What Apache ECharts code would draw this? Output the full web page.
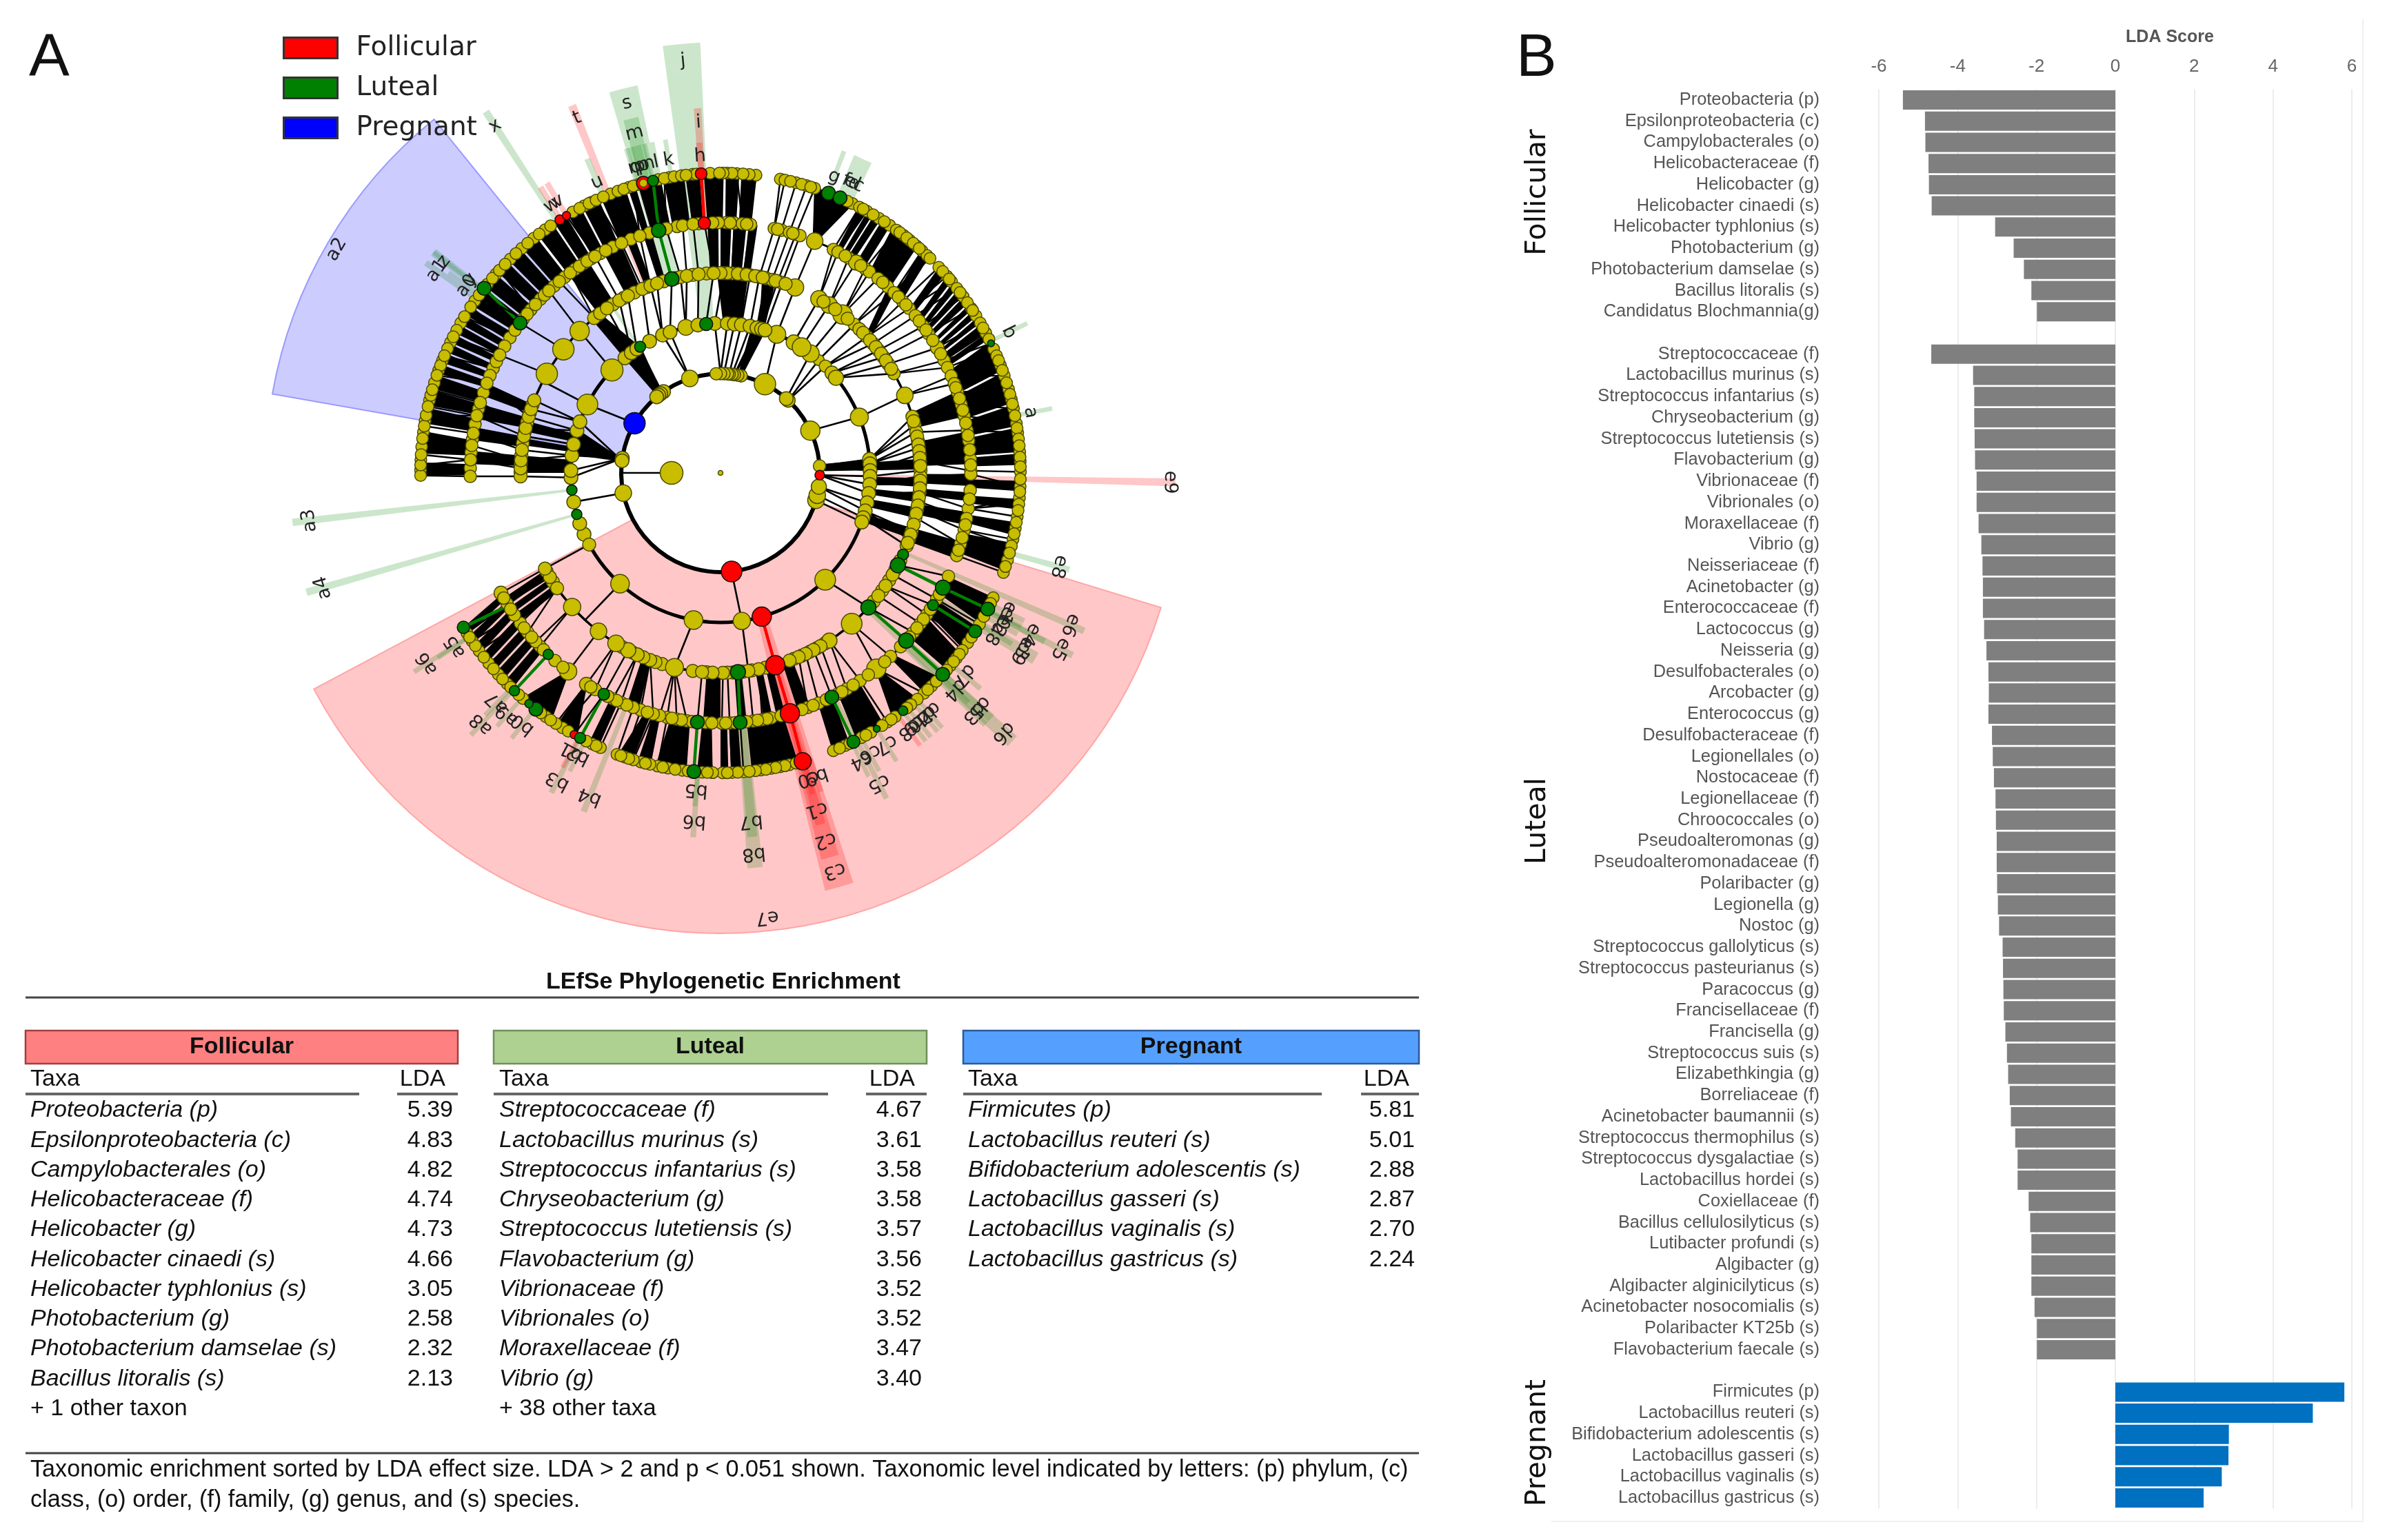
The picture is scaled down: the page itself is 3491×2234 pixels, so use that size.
<!DOCTYPE html>
<html><head><meta charset="utf-8">
<style>html,body{margin:0;padding:0;background:#fff}#c{width:3491px;height:2234px}</style>
<script src="https://cdn.jsdelivr.net/npm/echarts@6/dist/echarts.min.js"></script>
</head><body><div id="c"></div>
<script>
// ---------- Panel B data ----------
const follicularTaxa=['Proteobacteria (p)','Epsilonproteobacteria (c)','Campylobacterales (o)','Helicobacteraceae (f)','Helicobacter (g)','Helicobacter cinaedi (s)','Helicobacter typhlonius (s)','Photobacterium (g)','Photobacterium damselae (s)','Bacillus litoralis (s)','Candidatus Blochmannia(g)'];
const follicularLDA=[5.39,4.83,4.82,4.74,4.73,4.66,3.05,2.58,2.32,2.13,1.99];
const lutealTaxa=['Streptococcaceae (f)','Lactobacillus murinus (s)','Streptococcus infantarius (s)','Chryseobacterium (g)','Streptococcus lutetiensis (s)','Flavobacterium (g)','Vibrionaceae (f)','Vibrionales (o)','Moraxellaceae (f)','Vibrio (g)','Neisseriaceae (f)','Acinetobacter (g)','Enterococcaceae (f)','Lactococcus (g)','Neisseria (g)','Desulfobacterales (o)','Arcobacter (g)','Enterococcus (g)','Desulfobacteraceae (f)','Legionellales (o)','Nostocaceae (f)','Legionellaceae (f)','Chroococcales (o)','Pseudoalteromonas (g)','Pseudoalteromonadaceae (f)','Polaribacter (g)','Legionella (g)','Nostoc (g)','Streptococcus gallolyticus (s)','Streptococcus pasteurianus (s)','Paracoccus (g)','Francisellaceae (f)','Francisella (g)','Streptococcus suis (s)','Elizabethkingia (g)','Borreliaceae (f)','Acinetobacter baumannii (s)','Streptococcus thermophilus (s)','Streptococcus dysgalactiae (s)','Lactobacillus hordei (s)','Coxiellaceae (f)','Bacillus cellulosilyticus (s)','Lutibacter profundi (s)','Algibacter (g)','Algibacter alginicilyticus (s)','Acinetobacter nosocomialis (s)','Polaribacter KT25b (s)','Flavobacterium faecale (s)'];
const lutealLDA=[4.67,3.61,3.58,3.58,3.57,3.56,3.52,3.52,3.47,3.40,3.37,3.36,3.36,3.33,3.27,3.22,3.21,3.22,3.13,3.11,3.08,3.04,3.03,3.01,3.01,3.00,2.98,2.95,2.86,2.85,2.84,2.83,2.79,2.75,2.72,2.68,2.65,2.54,2.48,2.48,2.20,2.16,2.13,2.13,2.13,2.05,1.99,1.99];
const pregnantTaxa=['Firmicutes (p)','Lactobacillus reuteri (s)','Bifidobacterium adolescentis (s)','Lactobacillus gasseri (s)','Lactobacillus vaginalis (s)','Lactobacillus gastricus (s)'];
const pregnantLDA=[5.81,5.01,2.88,2.87,2.70,2.24];
const ldaTicks=[-6,-4,-2,0,2,4,6];

// ---------- Table data ----------
const tblFollicular=[['Proteobacteria (p)','5.39'],['Epsilonproteobacteria (c)','4.83'],['Campylobacterales (o)','4.82'],['Helicobacteraceae (f)','4.74'],['Helicobacter (g)','4.73'],['Helicobacter cinaedi (s)','4.66'],['Helicobacter typhlonius (s)','3.05'],['Photobacterium (g)','2.58'],['Photobacterium damselae (s)','2.32'],['Bacillus litoralis (s)','2.13']];
const tblLuteal=[['Streptococcaceae (f)','4.67'],['Lactobacillus murinus (s)','3.61'],['Streptococcus infantarius (s)','3.58'],['Chryseobacterium (g)','3.58'],['Streptococcus lutetiensis (s)','3.57'],['Flavobacterium (g)','3.56'],['Vibrionaceae (f)','3.52'],['Vibrionales (o)','3.52'],['Moraxellaceae (f)','3.47'],['Vibrio (g)','3.40']];
const tblPregnant=[['Firmicutes (p)','5.81'],['Lactobacillus reuteri (s)','5.01'],['Bifidobacterium adolescentis (s)','2.88'],['Lactobacillus gasseri (s)','2.87'],['Lactobacillus vaginalis (s)','2.70'],['Lactobacillus gastricus (s)','2.24']];

// ---------- Cladogram data: ring -> groups of [parent angle, child nodes]; node = angle or [angle,size,class] ----------
const ringRadius=[0,71,144,217,290,363,435];
const ringDefaultSize=[7,33,18,20,19,18,17];
const ring1=[[null,[[180,33]]]];
const ring2=[[null,[[-16,24],[-13,24],[-8,22],[-1.3,14,'F'],[4,18],[25.2,28],[47,20],[48.5,20],[63.4,31],78,80,82,83.3,85,86,88,90,92.5,[108,24],[125,20],[127,20],[128.5,20],[130,20],[150,31,'P'],[171.5,20],[173,20],[191.7,24],[276.4,30,'F']]],[180,[[180,0]]]];
const ring3=[[63.4,[[67.9,26]]],[47,[[49,16],[45.5,18]]],[48.5,[[53,25]]],[25.2,[[21.9,26]]],[4,[5.2,3.5,0.9]],[-1.3,[-1.3,-4.4,-7.9]],[-8,[-11.5,-14.7]],[-13,[-17.4]],[-16,[-19.2]],[276.4,[[-81.8,25]]],
[null,[[-74,28,'F'],[-45.6,30],[259.6,27],[227.8,27],[60.7,22],[57.2,27],41.9,[39.5,22],204.2,199.8,[196.1,15,'L'],[186.6,15,'L'],[208.6,19],[103.4,23],98.7,[95.5,19,'L'],[118.3,20],[136.5,32]]],
[191.7,[191.2]],[171.5,[181.8,179.1,173.3]],[173,[169,163.6,160]],[150,[[152.8,30]]],[127,[129.7,126.6,124,[122.5,16,'L']]],[108,[112.8,109.7]],[90,[92.2,87.4]],[88,[84.7]],[85,[82]],[83.3,[78.6]],[82,[75.9,74.1]],[78,[72.7]]];
const ring4=[[67.9,[[68.1,25]]],[92.2,[89]],[87.4,[86.7]],[84.7,[83.4]],[82,[81.5]],[78.6,[78.8]],[75.9,[76.9,75]],[74.1,[73.4]],[72.7,[72]],[60.7,[[60.5,24]]],[57.2,[[57.1,24]]],[53,[[52.4,28]]],[49,[[48,18]]],[45.5,[42.9,40.3]],[41.9,[37.8,35.4]],[39.5,[33,[29.8,18]]],[21.9,[[22.8,24]]],[5.2,[16.3,13.9,11.8]],[3.5,[9.2,7.2]],[0.9,[5.3,3.3]],[-1.3,[0.7]],[-4.4,[-1,-3.3]],[-7.9,[-5.6,-8.2]],[-11.5,[-10.6,-12.9]],[-14.7,[-17,-19.4]],[-17.4,[-21.4]],[-45.6,[[-42.3,22,'L']]],
[null,[88,85,82.5,80,77.8,74,71,59,55,50.5,46,44.5,41.6,39,36.6,34.2,31.4,15,10.5,8.2,6.3,4.3,2,-2.2,-4.4,-7,-9.4,-11.8,-15,-18,-20.5,-26,-29,-32.5,-36,-40,-58.5,-61.2,-63.5,-66,-68.5,-77,-81,-83.5,-86.5,266,262,253,251,244,240.5,213,209.5,179.8,177.5,175,171.5,168,165.3,162.5,160,128,122.5,119,115.5,111.5,106.5,103,98,94,90]],
[null,[[-24.1,16,'L'],[-27.5,22,'L'],-30.6,-34.4,-37.9,[-49,30],[-57,22],-60,-62.3,-64.8,-67,-69.8,-79,[-85,22,'L'],-88,-89.3,267.7,264.7,249.4,247.3,[245.4,20],[242.5,22],[238.5,24],[232.4,24],[222.1,25],215.2,211.4,[150.3,31],[141.8,31]]],
[-74,[[-74.1,28,'F']]],[-81.8,[-82]],[259.6,[[256.7,26]]],[227.8,[[227.4,0]]],[208.6,[[208.6,19]]],[181.8,[181]],[179.1,[178.7]],[173.3,[176.4,173.4]],[169,[169.4]],[163.6,[167,163.7]],[160,[161.4,158.7]],[152.8,[[152.7,0]]],[136.5,[[134.8,28]]],[129.7,[129.2,127]],[126.6,[124.6,120.4]],[124,[117.6]],[118.3,[113]],[112.8,[110.5,108.5]],[109.7,[[104.1,21,'L']]],[103.4,[101.5,99.7]],[98.7,[96.3]],[95.5,[92]]];
const ring5=[[68.1,[[67.9,24]]],[89,[88.7]],[86.7,[86.8,85]],[83.4,[83.1]],[78.8,[77.6]],[76.9,[75.9]],[75,[74]],[73.4,[72.5]],[72,[71.5]],[60.5,[63.2,62]],[57.1,[59.2,[57.2,22]]],[52.4,[54.7,53.5,51]],[48,[48.1,46.1]],[42.9,[43.3,41.1]],[40.3,[38.9]],[37.8,[35.9]],[35.4,[33.8]],[33,[[30,20]]],[29.8,[26.7,24.9]],[22.8,[22.8,20.9]],[16.3,[18.8,15.9]],[13.9,[13.2]],[11.8,[9.8]],[9.2,[7.4]],[7.2,[3.2]],[3.3,[0.5]],[-1,[-0.3]],[-5.6,[-8.2]],[-8.2,[-10.5]],[-10.6,[-13.2]],[-12.9,[-16.5]],[-17,[-19.3]],[-27.5,[[-27.3,22,'L'],-24.4]],[-30.6,[-30.3]],[-34.4,[-34.5,[-31.9,16,'L']]],[-37.9,[-37]],[-42.3,[[-42.1,22,'L'],-39.6]],[-49,[[-51.5,28],-47.2]],[-57,[-56.1,-59.7]],[-60,[-62]],[-62.3,[[-63.6,20,'L']]],[-64.8,[-66.9]],[-67,[-69.6]],[-74.1,[[-73.9,28,'F']]],[-79,[-78.3,-80.4]],[-82,[-82.5]],[-85,[[-85.5,20,'L']]],[-88,[-87.9]],[-89.3,[-89.7]],[267.7,[266.6]],[264.7,[[264.7,20,'L']]],[256.7,[259.9,262.3,257.7,255.9]],[249.4,[254.4,251.4,249.6]],[245.4,[246.6,244.5]],[242.5,[[242.2,17,'L']]],[238.5,[240,[237.6,20]]],[232.4,[[232.5,25]]],[222.1,[223.9,222.4]],[215.2,[216.9,214.6,219.6]],[211.4,[211.5]],[208.6,[[208.7,20]]],
[null,[[226.5,15,'L'],228.6,[212,0,'L'],155.3,147.3,142,139.3,136]],
[null,[87.8,84,76.8,73.2,60.1,55.9,49.6,44.7,42.2,37.4,34.8,32,28.4,19.9,17.3,14.5,11.5,8.6,5.3,1.8,-4,-6,-12,-15,-18,-29,-33,-35.8,-38.3,-41,-44,-49,-53.8,-58,-61,-65,-68.3,-71,-76,-79.3,-81.5,-84,-86.7,-88.8,268,263.5,261,258.8,253,248,245.5,243.2,238.8,231,225,221,218.3,213,210,178.9,175.3,172.3,168.8,165.2,161.3,157.1,153.6,149.6,145.2,140.6,137.7,134.7,131.7,128.5,125.6,123.2,121.1,118.7,115.5,111,106.5,100,95,90.5]],
[181,[180.8]],[178.7,[177]],[176.4,[173.7]],[173.4,[170.9]],[169.4,[166.8]],[167,[163.7]],[163.7,[159]],[150.3,[151.9]],[141.8,[[143.2,20,'L']]],[134.8,[133.3]],[129.2,[130.1,126.9]],[127,[124.3]],[124.6,[122.2]],[120.4,[120.1]],[117.6,[117.3]],[113,[113.3]],[110.5,[108.8]],[104.1,[[104.3,21,'L']]],[101.5,[102.5]],[99.7,[98.7]],[96.3,[96.3]],[92,[91.8,[93.7,18,'F']]]];
const ring6=[[83.1,[83.2,84.5]],[85,[86.9]],[88.7,[88.7]],[77.6,[78.5,77.6]],[75.9,[75.4]],[74,[73.3]],[72.5,[71.7]],[67.9,[[68.9,20,'L'],[66.5,20,'L'],63.9]],[63.2,[62.4]],[62,[60.8]],[59.2,[58.1]],[57.2,[55.7]],[54.7,[54.1]],[53.5,[52.4]],[51,[50.9]],[48.1,[49.2]],[46.1,[47.8,46.5,45.7]],[43.3,[43.3]],[41.1,[41,39.6]],[38.9,[38]],[35.9,[36]],[33.8,[33.3]],[30,[31.6,30]],[26.7,[27.8,[25.6,10,'L']]],[24.9,[24.4]],[22.8,[21,18.9]],[18.8,[16.2,14.2]],[15.9,[12.4]],[13.2,[9.5]],[9.8,[7.7]],[7.4,[4]],[3.2,[2.2]],[0.5,[0.2]],[-0.3,[-2.6]],[-8.2,[-4.8,-6,-8.4]],[-10.5,[-10.6]],[-13.2,[-12.8,-14.1]],[-16.5,[-16.9]],[-19.3,[-19.4]],[-27.3,[[-27,20,'L'],-24.6]],[-30.3,[-30.3]],[-31.9,[[-31.9,19,'L']]],[-34.5,[-34.5,-36.3]],[-37,[-38.2]],[-39.6,[-40]],[-42.1,[[-42.2,20,'L']]],[-47.2,[-45.3]],[-51.5,[-47.3,-49,-50.6,[-52.5,14,'L'],-54.4]],[-56.1,[-56.2]],[-59.7,[[-58.6,10,'L'],-59.9]],[-62,[-62]],[-63.6,[[-63.7,19,'L']]],[-66.9,[-65.4,-67.9]],[-73.9,[[-74.1,25,'F']]],[-78.3,[-76.7,-78.5]],[-80.4,[-80.3]],[-82.5,[-82.3]],[-85.5,[-85.6]],[-87.9,[-87.8]],[-89.7,[-89.6]],[266.6,[268.5,266.5]],[264.7,[[264.9,20,'L']]],[262.3,[262.7]],[259.9,[259.9]],[257.7,[257.9]],[255.9,[256.4]],[254.4,[254.6,253.1]],[251.4,[251.4]],[249.6,[249.8]],[246.6,[246.4]],[244.5,[244.7]],[242.2,[[242.1,16,'L'],[240.8,12,'F']]],[240,[238.2]],[237.6,[236.7]],[232.5,[234.4,[232,20,'L'],[230.3,12,'L'],228.8]],[226.5,[[226.6,15,'L']]],[223.9,[224.7]],[222.4,[222.2]],[219.6,[219.4]],[216.9,[216.4]],[214.6,[214.1]],[211.5,[212.3]],[212,[[211,18,'L']]],
[null,[85.7,87.8,89.5,76.5,74.3,72.5,65,61.6,59.4,56.9,53.3,51.6,50,48.5,42.2,40.3,37,34.6,32.8,28.9,26.5,23,22,20,17.5,15.2,13.3,11,8.6,6.5,5.2,3,1.2,-1.2,-3.6,-7.2,-9.5,-11.7,-15.5,-18.2,-25.8,-28.6,-33.2,-37.2,-39,-41.1,-44,-46.3,-51.6,-55.3,-57.4,-61,-64.5,-66.6,-75.4,-77.6,-79.4,-81.3,-83.3,-84.5,-86.7,-88.7,267.5,263.8,261.3,258.9,255.5,252.2,250.6,245.5,243.4,239.5,235.5,233.2,227.7,225.6,223.4,220.8,217.9,215.2,213.2,179.5,177.5,175,172.2,170,166,165,162.5,160,158,154.2,150,145,141,138.5,134.5,131.5,128.5,125.8,119.5,117,115.5,111.5,110,107.8,105.9,102,99.9,95.3,94.6]],
[180.8,[180.5]],[177,[178.5,176.5]],[173.7,[173.4]],[170.9,[171]],[166.8,[168.9,167.2]],[163.7,[163.9]],[159,[159,161]],[155.3,[155.5,157]],[151.9,[151.6,153]],[147.3,[146.4,148.6]],[143.2,[[142,20,'L']]],[142,[143.6]],[139.3,[139.5,137.5]],[136,[135.9]],[133.3,[133]],[130.1,[130]],[126.9,[127.2]],[124.3,[124.5]],[122.2,[[122.4,14,'F']]],[120.1,[[120.9,12,'F'],118]],[117.3,[116]],[113.3,[114.5,113]],[108.8,[108.8,106.9]],[104.3,[[103,16,'L'],[104.9,20,'F'],[104.9,11,'T']]],[102.5,[100.8]],[98.7,[98.9,97.5]],[96.3,[96.6]],[93.7,[[93.7,17,'F']]],[91.8,[92,90.2]]];
// continuous arcs: [ring, from, to, width]
const ringArcs=[[2,-84,276.4,6],[3,-84,276,5],[4,-19.4,60.5,3.5],[4,68.1,181,3.5],[4,208.6,335.9,3.5],[5,-19.3,67.9,3],[5,71.5,77.6,3],[5,83.1,181,3],[5,208.7,232.5,3],[5,237.6,335.6,3],[6,-19.4,43.3,3],[6,45.7,78.5,3],[6,83.2,180,3],[6,211,246.4,3],[6,249.8,286,3],[6,292.1,335.4,3]];
// dense bundles of edges: [inner ring, inner from, inner to, outer from, outer to]
const edgeBundles=[[5,89.5,93,89.4,93.2],[5,86.4,88.9,86.4,89],[5,83.4,85.8,83,86],[5,67.4,68.4,63.7,71.8],[5,61.4,62.6,61,62.5],[5,59.8,60.9,59.5,60.7],[5,58,59.5,57.7,59.2],[5,55,57.2,55.5,57.4],[5,47.5,53.5,49,55],[5,43.5,45.5,46,48],[5,39.5,41,41.5,43.3],[5,37,38.2,39.7,41],[5,35.5,36.5,38,39.3],[5,34.2,35.2,36.2,37.6],[5,32.8,33.8,34.4,35.9],[5,31.2,32,33,34.1],[5,29.8,30.6,31.5,32.7],[5,28.5,29.2,30,31.2],[5,26.5,28,28,29.7],[5,25,26.2,26.5,27.7],[5,18.5,24,20,26],[5,12.5,18,13.5,19.6],[5,8.5,12,9,13.1],[5,4,8,4,8.7],[5,1.5,3.5,1.5,3.7],[5,-3.4,-1.5,-3.5,-1.5],[5,-7,-5.2,-7,-5],[5,-11.5,-9.6,-12,-9.5],[5,-18.5,-14,-19,-13.5],[5,-29,-24.5,-30,-24.5],[5,-34,-30.5,-36,-31],[5,-41,-35,-41,-37],[5,-47.5,-46.5,-47.2,-43],[5,-51.8,-51.2,-55,-49],[5,-62,-56.5,-63,-57],[5,-67,-63.5,-68,-64.5],[5,-84,-75.5,-84,-75],[5,-88,-86,-88,-86],[5,-90,-88.5,-90,-88.5],[5,265.8,268,265.5,268.5],[5,258.5,263,257.5,263.5],[5,254.5,256,254,256.5],[5,252.5,254,250,253],[5,244,246,244,246],[5,237.4,237.8,237,241.5],[5,232.3,232.8,229,235.7],[5,223,225,224,226],[5,220.5,222.5,221.6,223.6],[5,218,220,219.5,221.2],[5,215.5,217.5,217.3,219.1],[5,213,214.8,215,216.9],[5,211,212.5,213,214.6],[5,209,210.5,211,212.6],[5,178,180.5,178,180.5],[5,172.5,176,172,176.3],[5,167.5,170.5,167.5,170.5],[5,164,166.5,164,167],[5,161,163.5,161,163.7],[5,158.5,160,158.8,160.6],[5,156.5,157.8,156.5,158.4],[5,154.5,155.8,154.5,156.2],[5,152.5,153.8,152.5,154.2],[5,150.5,151.8,150.5,152.2],[5,148.5,150,148.5,150.2],[5,146,148,146.5,148.2],[5,142,145.5,142,146],[5,138.5,141.6,138.5,141.6],[5,135.3,138,135.3,138],[5,131.8,134.9,131.8,134.9],[5,128,131.4,128,131.4],[5,124,127.5,124,127.5],[5,121,123.6,121,123.6],[5,117.8,120.6,117.8,120.6],[5,114,117.4,114,117.4],[5,108.5,113.5,108.5,113.5],[5,106.5,108,106.5,108],[5,101.5,106,101.5,106],[5,97,101,97,101],[5,94,96.5,94,96.5],
[4,87.5,90,87.5,90],[4,84,87,84,87],[4,81.5,83.5,81.5,83.5],[4,90.5,93,90.5,93],[4,41.8,43.5,46,48],[4,2,9,2,9.5],[4,13,17.5,13,19],[4,-3,-0.3,-3,-0.3],[4,-6.5,-4.5,-6.5,-4.5],[4,-12,-9,-12,-9],[4,-20,-16,-20,-16],[4,-72,-69,-72,-69],[4,-77,-75,-77,-75],[4,-86,-84,-86,-84],[4,-80,-78,-80,-78],[4,266,270,266,270],[4,247,249.5,248,251],[4,209,211,210,212],[4,211.8,213.5,212.5,214],[4,214,216,214.5,216.5],[4,160,162.6,159,162],[4,164,167,164,167.5],[4,169.5,172.5,169.5,172.5],[4,175,178,175,178],[4,122,127.5,122,127.5],[4,113.5,118,113.5,118],[4,106,108,106,108],[4,110,112,110,112],
[3,82,89,82,91],[3,73,75,74,78],[3,1,4,1,4],[3,-4,-1.5,-4,-1.5],[3,-8,-6,-8,-6],[3,-13,-10,-13,-10],[3,-19,-16,-19,-16],[3,122.5,130,127,130],[3,175,180,175,180],[3,165,168,165,168],[3,170,172,170,172],
[2,1,5,1,5],[2,172,173.5,163,173],[2,78,80,73,78],[2,125.5,129.5,122.5,130]];
// big clade wedges: [from, to, r0, r1, class]
const cladeWedges=[[129,170,144,660,'P'],[208,343,144,668,'F']];
// annotation strips + labels: [text, angle, width, r0, r1, label radius, class]
const annotations=[['j',95.2,5,217,625,600,'L'],['s',104.2,4.2,290,575,553,'L'],['m',104.2,2.4,363,530,508,'L'],['t',112,1.2,290,575,555,'F'],['x',123,1,217,625,600,'L'],['w',122.2,1,435,490,459,'F'],['v',120.9,1,435,490,459,'F'],['u',113,1,435,495,458,'L'],['h',93.7,1.1,435,480,460,'F'],['i',93.6,1.2,363,530,509,'F'],['k',99.4,.8,435,490,460,'L'],['l',101.7,.8,435,490,460,'L'],['n',103,.8,435,490,460,'L'],['o',104,.8,435,490,460,'L'],['p',104.8,.8,435,490,460,'L'],['q',105.5,.8,435,490,460,'L'],['r',106.2,.8,435,490,460,'L'],['a',11,.8,435,490,458,'L'],['b',26,.8,435,495,465,'L'],['c',64.4,.8,435,500,462,'L'],['d',65.2,.8,435,500,462,'L'],['e',66,.8,435,500,462,'L'],['f',66.8,.8,435,500,462,'L'],['g',69,.8,435,500,460,'L'],['y',142.3,1,435,525,458,'L'],['z',142.6,1,435,525,505,'L'],['a0',143.6,.8,435,490,457,'L'],['a1',144.5,1,435,525,505,'L'],['a3',186.6,1,217,625,600,'L'],['a4',196.1,1,217,625,600,'L'],['a5',213.2,.8,435,490,460,'L'],['a6',213,.8,435,530,507,'L'],['a7',225.8,.8,435,490,465,'L'],['a8',226.4,.8,435,525,503,'L'],['a9',228.6,.8,435,490,468,'L'],['b0',231.8,.8,435,490,464,'L'],['b1',241.8,.8,435,485,458,'F'],['b2',243.2,.8,435,485,458,'L'],['b3',242.1,.9,435,525,505,'L'],['b4',248,1,363,530,506,'L'],['b5',265.6,.9,435,485,461,'L'],['b6',265.7,.9,435,530,506,'L'],['b7',-85,1.6,363,530,507,'L'],['b8',-85,2.2,290,575,554,'L'],['b9',-72.5,.8,435,485,461,'F'],['c0',-74,1,435,485,461,'F'],['c1',-74.1,1.6,363,530,508,'F'],['c2',-74.1,2.6,290,580,554,'F'],['c3',-74,3.9,217,625,600,'F'],['c4',-64,.8,435,490,464,'L'],['c5',-63,.9,363,530,505,'L'],['c6',-62,.8,435,490,461,'L'],['c7',-58.6,.8,435,490,461,'L'],['c8',-53.8,.8,435,490,462,'F'],['c9',-52.6,.8,435,490,460,'L'],['d0',-51.5,.8,435,490,460,'L'],['d1',-50,.8,435,490,460,'L'],['d2',-49,.8,435,490,460,'L'],['d3',-43.5,1,363,530,506,'L'],['d4',-42.8,.9,435,490,463,'L'],['d5',-42.2,1.4,363,530,506,'L'],['d6',-42.6,2,290,575,557,'L'],['d7',-39.7,.9,435,490,459,'L'],['d8',-30.4,.9,435,490,460,'L'],['d9',-31,1,363,530,507,'L'],['e0',-27,.9,435,490,462,'L'],['e1',-26,.9,435,490,462,'L'],['e2',-28.5,.9,435,490,462,'L'],['e3',-30,1,363,530,507,'L'],['e4',-27.5,1,363,530,507,'L'],['e5',-27.4,1,290,575,555,'L'],['e6',-23.5,1,290,575,553,'L'],['e8',-15.5,1,363,525,509,'L'],['e9',-1.2,1,144,660,652,'F'],['a2',149.8,0,0,0,644,'P'],['e7',-84,0,0,0,648,'F']];

// ---------- build derived rows ----------
const rings=[null,ring1,ring2,ring3,ring4,ring5,ring6];
const nodeRows={Y:[[0,0,7]],F:[],L:[],P:[],T:[]};
const edgeRows=[];const edgeColor=[];
const classOf={};
const norm=a=>((a%360)+360)%360;
const unpack=(n,k)=>Array.isArray(n)?[n[0],n[1],n[2]||'Y']:[n,ringDefaultSize[k],'Y'];
for(let k=1;k<=6;k++){rings[k].forEach(g=>g[1].forEach(n=>{const u=unpack(n,k);if(u[2]!=='T')classOf[k+'|'+norm(u[0])]=u[2];}));}
const clsColor={F:'#ff0000',L:'#008000',P:'#0000ff'};
for(let k=1;k<=6;k++){rings[k].forEach(g=>{g[1].forEach(n=>{const u=unpack(n,k);
  nodeRows[u[2]].push([ringRadius[k],norm(u[0]),u[1]]);
  if(g[0]!==null&&u[2]!=='T'){const pc=classOf[(k-1)+'|'+norm(g[0])];
    edgeRows.push([ringRadius[k-1],norm(g[0]),ringRadius[k],norm(u[0])]);
    edgeColor.push(pc&&pc===u[2]&&u[2]!=='Y'?clsColor[u[2]]:'#000');}
});});}
const alphaOf={F:'rgba(255,0,0,0.22)',L:'rgba(0,128,0,0.2)',P:'rgba(0,0,255,0.2)'};
const annStrips=annotations.filter(a=>a[2]>0);

// ---------- panel B category + value arrays ----------
const barCategories=[...follicularTaxa,' ',...lutealTaxa,'  ',...pregnantTaxa];
const barData=[...follicularLDA.map(v=>({value:-v,itemStyle:{color:'#7f7f7f'}})),null,...lutealLDA.map(v=>({value:-v,itemStyle:{color:'#7f7f7f'}})),null,...pregnantLDA.map(v=>({value:v,itemStyle:{color:'#0070c0'}}))];

// ---------- table + text as graphic ----------
const SANS='"Liberation Sans",Arial,sans-serif';const DV='"DejaVu Sans",sans-serif';
const g=[];
const T=(x,y,text,size,opt={})=>g.push({type:'text',x,y,rotation:opt.rot||0,silent:true,style:{text,fill:opt.fill||'#111',textAlign:opt.align||'left',textVerticalAlign:'middle',font:`${opt.italic?'italic ':''}${opt.bold?'bold ':''}${size}px ${opt.family||SANS}`}});
const R=(x,y,w,h,fill,stroke,lw)=>g.push({type:'rect',silent:true,shape:{x,y,width:w,height:h},style:{fill,stroke:stroke||null,lineWidth:lw||0}});
const H=(x1,x2,y,stroke,lw)=>g.push({type:'line',silent:true,shape:{x1,y1:y,x2,y2:y},style:{stroke,lineWidth:lw}});
const V=(x,y1,y2,stroke,lw)=>g.push({type:'line',silent:true,shape:{x1:x,y1,x2:x,y2},style:{stroke,lineWidth:lw}});
T(42,86,'A',88);T(2199,86,'B',88);
T(1049,1425,'LEfSe Phylogenetic Enrichment',34,{bold:true,align:'center'});
H(37,2058,1447,'#444',3);
const cols=[{name:'Follicular',fill:'#ff8080',stroke:'#a04040',x0:37,x1:664,tx:44,lx:646,vx:657,r1:521,r2:576,rows:tblFollicular,more:'+ 1 other taxon'},
{name:'Luteal',fill:'#aed191',stroke:'#6f8f5c',x0:716,x1:1344,tx:724,lx:1327,vx:1337,r1:1201,r2:1256,rows:tblLuteal,more:'+ 38 other taxa'},
{name:'Pregnant',fill:'#55a0ff',stroke:'#2a5a9a',x0:1397,x1:2058,tx:1404,lx:2044,vx:2052,r1:1917,r2:1974,rows:tblPregnant,more:''}];
cols.forEach(c=>{R(c.x0,1495,c.x1-c.x0,48,c.fill,c.stroke,2.5);T((c.x0+c.x1)/2,1519,c.name,34,{bold:true,align:'center'});
 T(c.tx,1566,'Taxa',34);T(c.lx,1566,'LDA',34,{align:'right'});H(c.x0,c.r1,1587,'#666',4);H(c.r2,c.x1,1587,'#666',4);
 c.rows.forEach((r,i)=>{const y=1611+i*43.25;T(c.tx,y,r[0],34,{italic:true});T(c.vx,y,r[1],34,{align:'right'});});
 if(c.more)T(c.tx,1611+10*43.25,c.more,34);});
H(37,2058,2108,'#444',3);
T(44,2133,'Taxonomic enrichment sorted by LDA effect size. LDA > 2 and p < 0.051 shown. Taxonomic level indicated by letters: (p) phylum, (c)',34.2);
T(44,2177,'class, (o) order, (f) family, (g) genus, and (s) species.',34.2);
T(3147,54,'LDA Score',25,{bold:true,align:'center',fill:'#555'});
T(2230,279,'Follicular',41,{family:DV,rot:Math.PI/2,align:'center'});
T(2230,1191,'Luteal',41,{family:DV,rot:Math.PI/2,align:'center'});
T(2230,2093,'Pregnant',41,{family:DV,rot:Math.PI/2,align:'center'});
V(3427,28,2207,'#f0f0f0',2);H(2250,3427,2207,'#f0f0f0',2);

// ---------- custom renderers ----------
const rad=d=>d*Math.PI/180;
function sector(params,api,r0v,r1v,a0,a1,fill,stroke){const cs=params.coordSys;const pt=v=>api.coord([v,0])[0]-cs.cx;
 return {type:'sector',shape:{cx:cs.cx,cy:cs.cy,r0:pt(r0v),r:pt(r1v),startAngle:-rad(a1),endAngle:-rad(a0),clockwise:true},style:{fill,stroke:stroke||null,lineWidth:stroke?2:0}};}

const option={
 animation:false,backgroundColor:'#fff',
 graphic:{elements:g},
 legend:{left:405,top:45,orient:'vertical',itemWidth:78,itemHeight:30,itemGap:19,icon:'rect',data:['Follicular','Luteal','Pregnant'],textStyle:{fontSize:39,fontFamily:DV,color:'#222',padding:[0,0,0,22]},selectedMode:false,itemStyle:{borderColor:'#333',borderWidth:3}},
 polar:{center:[1045,686],radius:680},
 angleAxis:{type:'value',min:0,max:360,startAngle:0,clockwise:false,show:false,axisLine:{show:false},splitLine:{show:false},axisLabel:{show:false},axisTick:{show:false}},
 radiusAxis:{type:'value',min:0,max:680,show:false,axisLine:{show:false},splitLine:{show:false},axisLabel:{show:false},axisTick:{show:false}},
 grid:{left:2725,top:129.6,width:686,height:2058.8,containLabel:false},
 xAxis:{type:'value',position:'top',min:-6,max:6,interval:2,axisLine:{show:false},axisTick:{show:false},axisLabel:{fontSize:26,color:'#666',fontFamily:SANS,margin:20,customValues:ldaTicks},splitLine:{show:true,lineStyle:{color:'#ececec',width:2}}},
 yAxis:{type:'category',inverse:true,data:barCategories,axisLine:{show:false},axisTick:{show:false},axisLabel:{interval:0,fontSize:25.4,color:'#555',fontFamily:SANS,margin:86},splitLine:{show:false}},
 series:[
  {type:'custom',coordinateSystem:'polar',z:1,silent:true,clip:false,data:cladeWedges.map(w=>[w[2],w[0],w[3],w[1]]),
   renderItem:(p,api)=>{const w=cladeWedges[p.dataIndex];return sector(p,api,w[2],w[3],w[0],w[1],alphaOf[w[4]],w[4]==='P'?'#9a9aff':'#ffa5a5');}},
  {type:'custom',coordinateSystem:'polar',z:2,silent:true,clip:false,data:annStrips.map(a=>[a[3],a[1],a[4],a[2]]),
   renderItem:(p,api)=>{const a=annStrips[p.dataIndex];return sector(p,api,a[3],a[4],a[1]-a[2]/2,a[1]+a[2]/2,alphaOf[a[6]]);}},
  {type:'custom',coordinateSystem:'polar',z:3,silent:true,clip:false,data:edgeBundles.map(b=>[ringRadius[b[0]],b[1]]),
   renderItem:(p,api)=>{const b=edgeBundles[p.dataIndex];const ri=ringRadius[b[0]],ro=ringRadius[b[0]+1];
     return {type:'polygon',shape:{points:[api.coord([ri,norm(b[1])]),api.coord([ri,norm(b[2])]),api.coord([ro,norm(b[4])]),api.coord([ro,norm(b[3])])]},style:{fill:'#000'}};}},
  {type:'custom',coordinateSystem:'polar',z:4,silent:true,clip:false,data:edgeRows,
   renderItem:(p,api)=>{const e=edgeRows[p.dataIndex];const a=api.coord([e[0],e[1]]),b=api.coord([e[2],e[3]]);const c=edgeColor[p.dataIndex];
     return {type:'line',shape:{x1:a[0],y1:a[1],x2:b[0],y2:b[1]},style:{stroke:c,lineWidth:c==='#000'?(e[2]>300?2.4:2.6):4.5}};}},
  {type:'custom',coordinateSystem:'polar',z:5,silent:true,clip:false,data:ringArcs.map(a=>[ringRadius[a[0]],a[1]]),
   renderItem:(p,api)=>{const a=ringArcs[p.dataIndex];const cs=p.coordSys;const r=api.coord([ringRadius[a[0]],0])[0]-cs.cx;
     return {type:'arc',shape:{cx:cs.cx,cy:cs.cy,r,startAngle:-rad(a[2]),endAngle:-rad(a[1]),clockwise:true},style:{fill:null,stroke:'#000',lineWidth:a[3]}};}},
  {name:'nodes',type:'scatter',coordinateSystem:'polar',z:6,silent:true,data:nodeRows.Y,symbolSize:v=>v[2],itemStyle:{color:'#c9bd00',borderColor:'#4a4a00',borderWidth:1.5,opacity:1}},
  {name:'Follicular',type:'scatter',coordinateSystem:'polar',z:7,silent:true,data:nodeRows.F,symbolSize:v=>v[2],itemStyle:{color:'#ff0000',borderColor:'#111',borderWidth:1.5,opacity:1}},
  {name:'Luteal',type:'scatter',coordinateSystem:'polar',z:7,silent:true,data:nodeRows.L,symbolSize:v=>v[2],itemStyle:{color:'#008000',borderColor:'#111',borderWidth:1.5,opacity:1}},
  {name:'Pregnant',type:'scatter',coordinateSystem:'polar',z:7,silent:true,data:nodeRows.P,symbolSize:v=>v[2],itemStyle:{color:'#0000ff',borderColor:'#111',borderWidth:1.5,opacity:1}},
  {name:'top',type:'scatter',coordinateSystem:'polar',z:8,silent:true,data:nodeRows.T,symbolSize:v=>v[2],itemStyle:{color:'#c9bd00',borderColor:'#4a4a00',borderWidth:1,opacity:1}},
  {type:'custom',coordinateSystem:'polar',z:9,silent:true,clip:false,data:annotations.map(a=>[a[5],norm(a[1])]),
   renderItem:(p,api)=>{const a=annotations[p.dataIndex];const c=api.coord([a[5],norm(a[1])]);
     return {type:'text',x:c[0],y:c[1],rotation:rad(a[1]-90),style:{text:a[0],font:`27px ${DV}`,fill:'#222',textAlign:'center',textVerticalAlign:'middle'}};}},
  {type:'bar',xAxisIndex:0,yAxisIndex:0,z:3,silent:true,data:barData,barWidth:28}
 ]
};
echarts.init(document.getElementById('c')).setOption(option);
</script></body></html>
